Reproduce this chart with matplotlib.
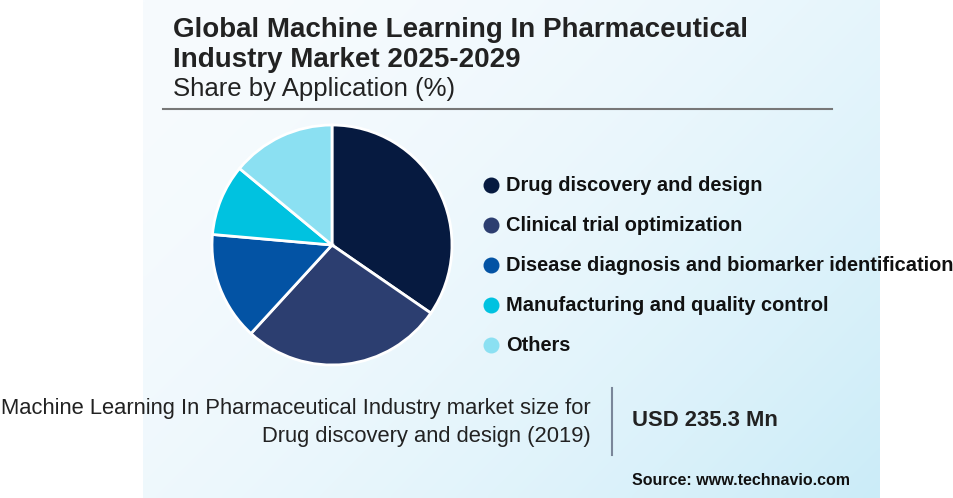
import numpy as np
import matplotlib
matplotlib.use("Agg")
import matplotlib.pyplot as plt

plt.rcParams['font.family'] = ['Liberation Sans', 'DejaVu Sans']

# Data
categories = ["Drug discovery and design", "Clinical trial optimization",
              "Disease diagnosis and biomarker identification",
              "Manufacturing and quality control", "Others"]
shares = [34.6, 27.2, 14.6, 9.6, 14.0]
colors = ["#061A40", "#2C3E70", "#0353A4", "#00C2E0", "#8BE0F2"]

title_lines = ["Global Machine Learning In Pharmaceutical", "Industry Market 2025-2029"]
subtitle = "Share by Application (%)"
note_lines = ["Machine Learning In Pharmaceutical Industry market size for",
              "Drug discovery and design (2019)"]
value_text = "USD 235.3 Mn"
source_text = "Source: www.technavio.com"

W, H = 954, 498
fig = plt.figure(figsize=(W / 100, H / 100), dpi=100)
fig.patch.set_facecolor("white")

bg = fig.add_axes([0, 0, 1, 1])
bg.set_xlim(0, W)
bg.set_ylim(H, 0)
bg.axis("off")

# gradient panel
nx, ny = 200, 120
xs = np.linspace(0, 1, nx)
ys = np.linspace(0, 1, ny)
X, Y = np.meshgrid(xs, ys)
t = np.clip((X * 0.6 + Y * 0.4), 0, 1) ** 1.8
c0 = np.array([247, 251, 254]) / 255
c1 = np.array([203, 236, 248]) / 255
img = c0[None, None, :] * (1 - t[..., None]) + c1[None, None, :] * t[..., None]
bg.imshow(img, extent=[143, 880, H, 0], aspect="auto", zorder=0, interpolation="bilinear")
bg.set_xlim(0, W)
bg.set_ylim(H, 0)

txt = "#222222"
bg.text(173, 30, title_lines[0], fontsize=20, fontweight="bold", color=txt, va="center", ha="left")
bg.text(173, 60, title_lines[1], fontsize=20, fontweight="bold", color=txt, va="center", ha="left")
bg.text(173, 89, subtitle, fontsize=18.5, color=txt, va="center", ha="left")
bg.plot([163, 832], [109, 109], color="#777777", lw=1.5)

# legend
for i, (cat, col) in enumerate(zip(categories, colors)):
    y = 185 + 40 * i
    bg.scatter([491], [y], s=110, color=col, zorder=3)
    bg.text(506, y, cat, fontsize=14.4, fontweight="bold", color="#111111", va="center", ha="left")

# bottom note
bg.text(591, 408, note_lines[0], fontsize=15.8, color=txt, va="center", ha="right")
bg.text(591, 436, note_lines[1], fontsize=15.8, color=txt, va="center", ha="right")
bg.plot([612, 612], [388, 455], color="#7A8699", lw=1.5)
bg.text(632, 420, value_text, fontsize=15.8, fontweight="bold", color=txt, va="center", ha="left")
bg.text(632, 480, source_text, fontsize=11.5, fontweight="bold", color="#111111", va="center", ha="left")

# pie
cx, cy, r = 332, 245, 120
pax = fig.add_axes([(cx - r) / W, (H - cy - r) / H, 2 * r / W, 2 * r / H])
pax.pie(shares, colors=colors, startangle=90, counterclock=False,
        wedgeprops=dict(edgecolor="white", linewidth=2))
pax.set_xlim(-1, 1)
pax.set_ylim(-1, 1)
pax.set_aspect("auto")
pax.axis("off")

fig.savefig("out.png", dpi=100, facecolor="white")
